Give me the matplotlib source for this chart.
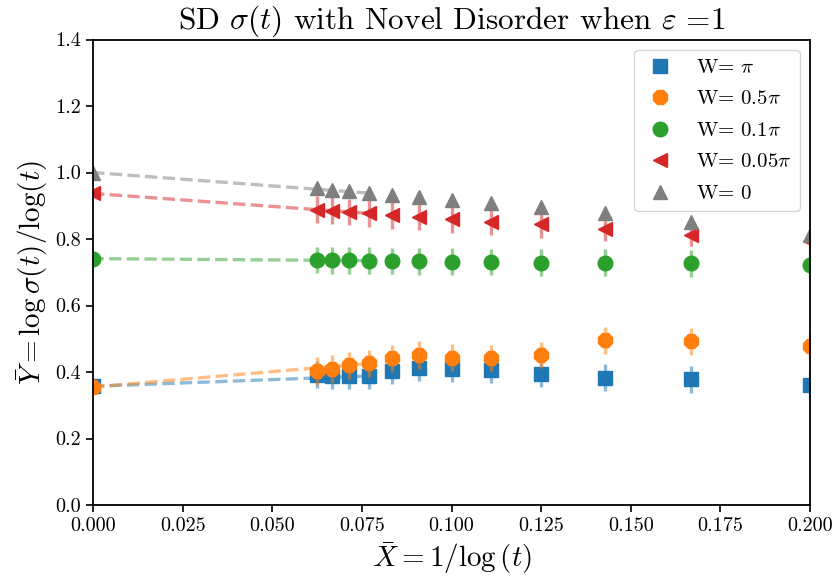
import numpy as np
import matplotlib
matplotlib.use('Agg')
from matplotlib import pyplot as plt
from matplotlib.lines import Line2D

plt.rcParams.update({
    "font.family": "serif",
    "font.serif": ["cmr10"],
    "mathtext.fontset": "cm",
    "axes.formatter.use_mathtext": True,
    "axes.unicode_minus": False,
})

# log(t) values of the sampled times, x = 1/log(t)
log_t = [16, 15, 14, 13, 12, 11, 10, 9, 8, 7, 6, 5]

labels = [r"W= $\pi$", r"W= $0.5\pi$", r"W= $0.1\pi$", r"W= $0.05\pi$", r"W= $0$"]
markers = ["s", "8", "o", "<", "^"]
colors = ["#1f77b4", "#ff7f0e", "#2ca02c", "#d62728", "#7f7f7f"]

y_pi = [0.392, 0.389, 0.389, 0.388, 0.403, 0.412, 0.410, 0.407, 0.394, 0.383, 0.378, 0.362]
y_05pi = [0.403, 0.410, 0.420, 0.426, 0.441, 0.451, 0.443, 0.442, 0.451, 0.495, 0.492, 0.479]
y_01pi = [0.737, 0.736, 0.736, 0.735, 0.734, 0.733, 0.732, 0.731, 0.729, 0.729, 0.727, 0.722]
y_005pi = [0.888, 0.885, 0.881, 0.877, 0.871, 0.866, 0.859, 0.851, 0.844, 0.831, 0.812, 0.795]
y_0 = [0.952, 0.948, 0.943, 0.938, 0.933, 0.927, 0.918, 0.907, 0.895, 0.877, 0.852, 0.812]

e_pi = [0.040, 0.040, 0.040, 0.040, 0.040, 0.040, 0.040, 0.040, 0.040, 0.040, 0.040, 0.040]
e_05pi = [0.042, 0.042, 0.041, 0.041, 0.041, 0.041, 0.040, 0.040, 0.040, 0.040, 0.040, 0.040]
e_01pi = [0.040, 0.040, 0.040, 0.040, 0.040, 0.040, 0.040, 0.040, 0.040, 0.040, 0.040, 0.040]
e_005pi = [0.040, 0.040, 0.040, 0.040, 0.040, 0.040, 0.040, 0.040, 0.040, 0.036, 0.033, 0.035]
e_0 = [0.015, 0.015, 0.015, 0.015, 0.015, 0.015, 0.015, 0.015, 0.015, 0.015, 0.015, 0.015]

# extrapolated values at 1/log(t) -> 0
y_inf = [0.357, 0.355, 0.741, 0.937, 1.000]

series = [y_pi, y_05pi, y_01pi, y_005pi, y_0]
errors = [e_pi, e_05pi, e_01pi, e_005pi, e_0]
n_fit = 4   # number of largest-t points used for the extrapolation

x = 1.0 / np.array(log_t, dtype=float)

fig = plt.figure(figsize=(8.35, 5.84), dpi=100)
ax = fig.add_axes([93 / 835, 1 - 505 / 584, 717 / 835, 465.5 / 584])

ms = 10.5
handles = []
for y, e, y0, m, c, lab in zip(series, errors, y_inf, markers, colors, labels):
    # dashed extrapolation line from the fitted region down to x = 0
    ax.plot([x[n_fit - 1], 0.0], [y[n_fit - 1], y0], ls="--", lw=2.4,
            color=c, alpha=0.5)
    ax.errorbar(x, y, yerr=e, fmt="none", ecolor=c, elinewidth=2.4,
                alpha=0.5, capsize=0)
    ax.plot(x, y, ls="none", marker=m, ms=ms, color=c)
    ax.plot([0.0], [y0], ls="none", marker=m, ms=ms, color=c)
    handles.append(Line2D([], [], ls="none", marker=m, ms=ms, color=c, label=lab))

ax.set_xlim(0, 0.2)
ax.set_ylim(0, 1.4)
ax.set_xticks(np.arange(0, 0.2001, 0.025))
ax.set_yticks(np.arange(0, 1.4001, 0.2))
ax.xaxis.set_major_formatter(matplotlib.ticker.FormatStrFormatter("%.3f"))
ax.yaxis.set_major_formatter(matplotlib.ticker.FormatStrFormatter("%.1f"))
ax.tick_params(labelsize=14.5, width=1.2, length=5)
for sp in ax.spines.values():
    sp.set_linewidth(1.3)

ax.set_title(r"SD $\sigma(t)$ with Novel Disorder when $\varepsilon$ =1", fontsize=22.5)
ax.set_xlabel(r"$\bar{X} = 1/\log{(t)}$", fontsize=21)
ax.set_ylabel(r"$\bar{Y} = \log\sigma(t)/\log(t)$", fontsize=21)

ax.legend(handles=handles, loc="upper right", fontsize=15, labelspacing=0.62,
          handlelength=1.7, handletextpad=0.85)

fig.savefig("out.png", dpi=100)
